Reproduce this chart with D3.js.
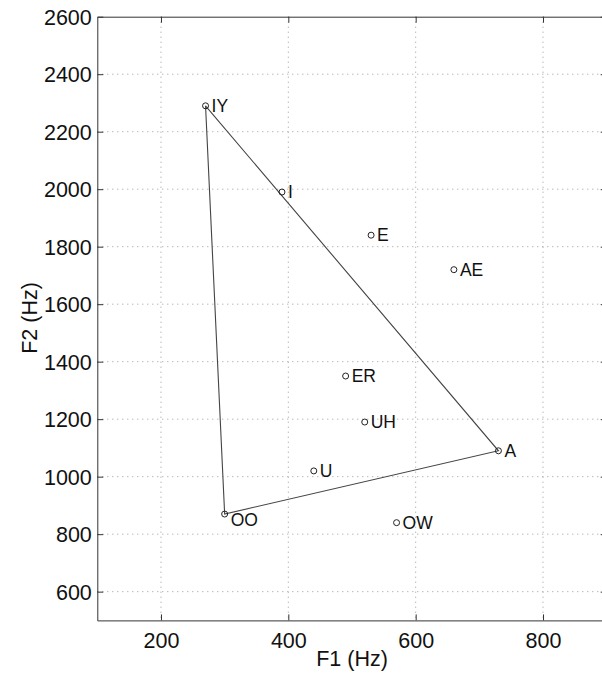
<!DOCTYPE html>
<html>
<head>
<meta charset="utf-8">
<script src="https://cdn.jsdelivr.net/npm/d3@7/dist/d3.min.js"></script>
<style>
  html, body { margin: 0; padding: 0; background: #fff; }
  svg { display: block; }
  text { font-family: "Liberation Sans", Arial, Helvetica, sans-serif; fill: #111; }
</style>
</head>
<body>
<svg id="chart" width="602" height="675"></svg>
<script>
// ---- data (Peterson & Barney style vowel formants) ----
const vowels = ["IY", "I", "E", "AE", "ER", "UH", "U", "A", "OO", "OW"];
const f1Values = [270, 390, 530, 660, 490, 520, 440, 730, 300, 570];
const f2Values = [2290, 1990, 1840, 1720, 1350, 1190, 1020, 1090, 870, 840];
const triangle = ["IY", "A", "OO", "IY"];
const xTicks = [200, 400, 600, 800];
const yTicks = [600, 800, 1000, 1200, 1400, 1600, 1800, 2000, 2200, 2400, 2600];
const xDomain = [100, 900];
const yDomain = [500, 2600];
const xLabel = "F1 (Hz)";
const yLabel = "F2 (Hz)";

(function () {
// ---- layout ----
const svg = d3.select("#chart");
const pLeft = 97.3, pRight = 606.7, pTop = 16.7, pBottom = 620.4;
const x = d3.scaleLinear().domain(xDomain).range([pLeft, pRight]);
const y = d3.scaleLinear().domain(yDomain).range([pBottom, pTop]);
const fs = 21.5;
const fmt = d3.format("d");

// grid
const grid = svg.append("g");
grid.selectAll("line.gx").data(xTicks).join("line")
  .attr("x1", d => x(d)).attr("x2", d => x(d))
  .attr("y1", pTop).attr("y2", pBottom)
  .attr("stroke", "#9a9a9a").attr("stroke-width", 1)
  .attr("stroke-dasharray", "1,4");
grid.selectAll("line.gy").data(yTicks.filter(d => d < yDomain[1])).join("line")
  .attr("x1", pLeft).attr("x2", pRight)
  .attr("y1", d => y(d)).attr("y2", d => y(d))
  .attr("stroke", "#9a9a9a").attr("stroke-width", 1)
  .attr("stroke-dasharray", "1,4");

// axes (ticks inward, MATLAB style)
const tickLen = 6;
const axB = svg.append("g").attr("transform", `translate(0,${pBottom})`)
  .call(d3.axisBottom(x).tickValues(xTicks).tickFormat(fmt).tickSizeInner(-tickLen).tickSizeOuter(0).tickPadding(0));
const axT = svg.append("g").attr("transform", `translate(0,${pTop})`)
  .call(d3.axisTop(x).tickValues(xTicks).tickSizeInner(-tickLen).tickSizeOuter(0).tickFormat(""));
const axL = svg.append("g").attr("transform", `translate(${pLeft},0)`)
  .call(d3.axisLeft(y).tickValues(yTicks).tickFormat(fmt).tickSizeInner(-tickLen).tickSizeOuter(0).tickPadding(0));
const axR = svg.append("g").attr("transform", `translate(${pRight},0)`)
  .call(d3.axisRight(y).tickValues(yTicks).tickSizeInner(-tickLen).tickSizeOuter(0).tickFormat(""));

[axB, axT, axL, axR].forEach(a => {
  a.select(".domain").attr("stroke", "#333").attr("stroke-width", 1);
  a.selectAll(".tick line").attr("stroke", "#333");
});
axB.selectAll(".tick text")
  .attr("y", 27.3).attr("dy", 0)
  .attr("font-size", fs).attr("font-family", "Liberation Sans, Arial, sans-serif").attr("fill", "#111");
axL.selectAll(".tick text")
  .attr("x", -5.5).attr("dy", "0.36em")
  .attr("font-size", fs).attr("font-family", "Liberation Sans, Arial, sans-serif").attr("fill", "#111");

// axis titles
svg.append("text")
  .attr("x", (pLeft + pRight) / 2).attr("y", 666)
  .attr("text-anchor", "middle").attr("font-size", fs)
  .text(xLabel);
svg.append("text")
  .attr("transform", `translate(36.5,318) rotate(-90)`)
  .attr("text-anchor", "middle").attr("font-size", fs)
  .text(yLabel);

// vowel triangle
const pts = vowels.map((v, i) => ({ v, f1: f1Values[i], f2: f2Values[i] }));
const byName = new Map(pts.map(p => [p.v, p]));
const line = d3.line().x(p => x(p.f1)).y(p => y(p.f2));
svg.append("path")
  .datum(triangle.map(n => byName.get(n)))
  .attr("d", line)
  .attr("fill", "none").attr("stroke", "#444").attr("stroke-width", 1.1);

// markers
svg.selectAll("circle.pt").data(pts).join("circle")
  .attr("cx", p => x(p.f1)).attr("cy", p => y(p.f2)).attr("r", 3)
  .attr("fill", "none").attr("stroke", "#222").attr("stroke-width", 1);

// labels
const labelNudge = { OO: 6 };
svg.selectAll("text.lbl").data(pts).join("text")
  .attr("x", p => x(p.f1) + 6)
  .attr("y", p => y(p.f2) + (labelNudge[p.v] || 0))
  .attr("dy", "0.36em")
  .attr("font-size", 17.5)
  .text(p => p.v);
})();
</script>
</body>
</html>
